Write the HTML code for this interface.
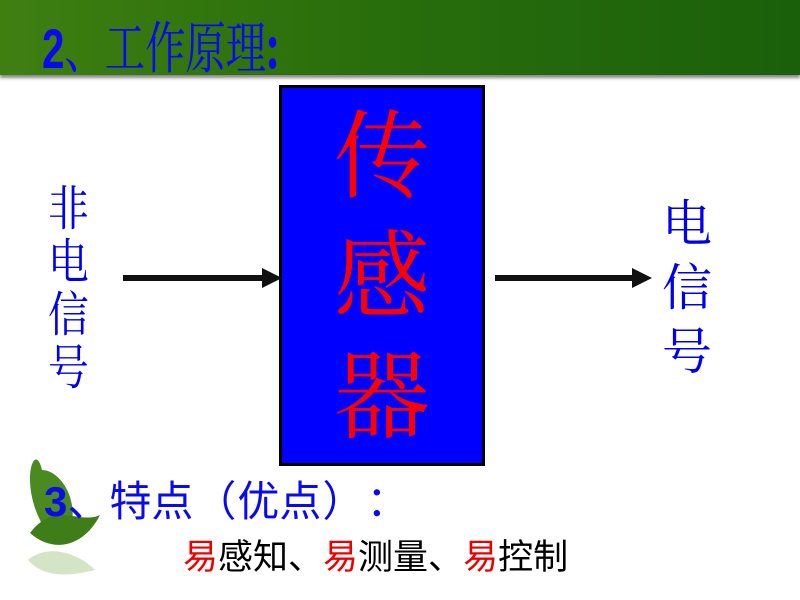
<!DOCTYPE html>
<html><head><meta charset="utf-8"><style>
body{margin:0;width:800px;height:600px;overflow:hidden;background:#fff;position:relative;font-family:"Noto Sans CJK SC","Liberation Sans",sans-serif}
.bar{position:absolute;left:0;top:0;width:800px;height:75px;background:linear-gradient(90deg,#3f7f12,#2b700c 40%,#1a600b);box-shadow:0 3px 3px #888}
.t{position:absolute;white-space:nowrap}
.serif{font-family:"Noto Serif CJK SC","Liberation Serif",serif}
.v{position:absolute;color:#0000ee;line-height:1}
.c{display:inline-block;width:44px;text-align:center}
</style></head><body>
<div class="bar"></div>
<div class="t" style="left:42px;top:10px;font-size:56px;color:#0a0aee;transform:scaleX(0.72);transform-origin:left;line-height:70px"><b style="font-family:'Liberation Sans'">2</b><span class="serif">、工作原理</span><b>:</b></div>

<div style="position:absolute;left:279px;top:85px;width:200px;height:375px;background:#0000ff;border:3px solid #000"></div>
<div class="serif" style="position:absolute;left:279px;top:90px;width:206px;text-align:center;color:#ff0000;font-size:96px;line-height:120px">传<br>感<br>器</div>

<div class="serif v" style="left:48px;top:178px;font-size:48px;line-height:53px;transform:scaleX(0.85);transform-origin:left">非<br>电<br>信<br>号</div>
<div class="serif v" style="left:662px;top:188px;font-size:50px;line-height:64px">电<br>信<br>号</div>

<svg width="800" height="600" style="position:absolute;left:0;top:0">
<line x1="123" y1="278" x2="265" y2="278" stroke="#111" stroke-width="6"/>
<polygon points="262,268 282,278 262,288" fill="#111"/>
<line x1="495" y1="278" x2="635" y2="278" stroke="#111" stroke-width="6"/>
<polygon points="632,268 652,278 632,288" fill="#111"/>
<g>
<path d="M40,520 C20,480 35,440 42,470 C60,470 80,500 70,530 C62,545 48,540 40,520Z" fill="#4a8a20"/>
<path d="M30,533 C55,500 80,525 100,515 C85,545 55,555 30,533Z" fill="#3f7d18"/>
<path d="M28,560 C45,545 75,550 95,570 C75,575 45,580 28,560Z" fill="#b8d4a0" opacity="0.6"/>
</g>
</svg>
<div class="t" style="left:44px;top:472px;font-size:42px;color:#0a0aee;line-height:54px"><b style="font-family:'Liberation Sans'">3</b>、特点<span class="c">（</span>优点<span class="c">）</span><span class="c">：</span></div>
<div class="t" style="left:183px;top:532px;font-size:35px;line-height:46px;color:#000"><span style="color:#e00">易</span>感知、<span style="color:#e00">易</span>测量、<span style="color:#e00">易</span>控制</div>
</body></html>
